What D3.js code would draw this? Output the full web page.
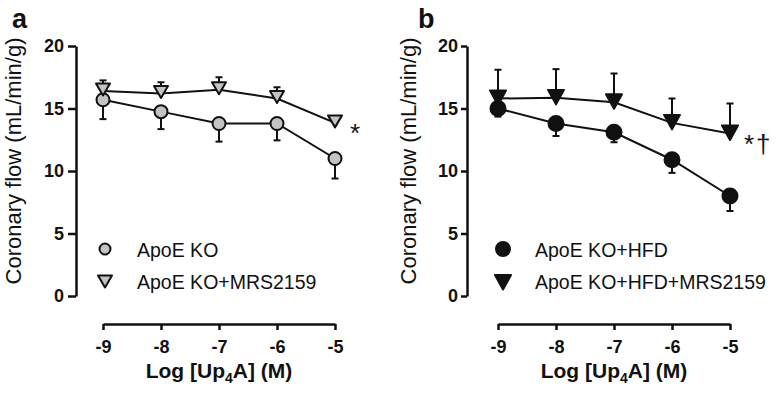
<!DOCTYPE html>
<html>
<head>
<meta charset="utf-8">
<script src="https://cdn.jsdelivr.net/npm/d3@7"></script>
<style>
  body { margin: 0; background: #fff; }
  svg text { font-family: "Liberation Sans", Arial, sans-serif; }
</style>
</head>
<body>
<div id="chart"></div>
<script>
// data (mean, SEM)
const logDose = [-9, -8, -7, -6, -5];
const yTicks = [0, 5, 10, 15, 20];

const koMean = [15.7, 14.75, 13.8, 13.8, 11.0];
const koSem = [1.55, 1.4, 1.45, 1.35, 1.6];
const koMrsMean = [16.4, 16.2, 16.5, 15.8, 13.85];
const koMrsSem = [0.85, 0.9, 1.0, 0.9, 0.55];

const hfdMean = [15.0, 13.8, 13.1, 10.9, 8.0];
const hfdSem = [0.65, 1.0, 0.8, 1.05, 1.2];
const hfdMrsMean = [15.8, 15.85, 15.5, 13.85, 13.0];
const hfdMrsSem = [2.3, 2.3, 2.3, 1.95, 2.4];

const width = 780, height = 398;

const svg = d3.select("#chart")
  .append("svg")
    .attr("width", width)
    .attr("height", height);

const y = d3.scaleLinear().domain([0, 20]).range([296, 46]);

function drawPanel(p) {
  const x = d3.scaleLinear().domain([-9, -5]).range(p.xRange);

  // y axis
  const ya = svg.append("g")
    .attr("transform", `translate(${p.yAxisX},0)`)
    .call(d3.axisLeft(y).tickValues(yTicks).tickSize(p.yTick).tickSizeOuter(0).tickPadding(p.yPad));
  ya.select(".domain").attr("stroke", "#111").attr("stroke-width", 2.5);
  ya.selectAll(".tick line").attr("stroke", "#111").attr("stroke-width", 2.5);
  ya.selectAll(".tick text")
    .style("font-size", "18px").style("font-weight", "bold").attr("fill", "#111");

  // x axis
  const xa = svg.append("g")
    .attr("transform", `translate(0,324)`)
    .call(d3.axisBottom(x).tickValues(logDose).tickSize(6).tickSizeOuter(0).tickPadding(10)
      .tickFormat(d => String(d)));
  xa.select(".domain").attr("stroke", "#111").attr("stroke-width", 2.5);
  xa.selectAll(".tick line").attr("stroke", "#111").attr("stroke-width", 2.5);
  xa.selectAll(".tick text")
    .style("font-size", "18px").style("font-weight", "bold").attr("fill", "#111");

  // x title with subscript
  const xt = svg.append("text")
    .attr("x", (p.xRange[0] + p.xRange[1]) / 2)
    .attr("y", 378)
    .attr("text-anchor", "middle")
    .style("font-size", "21px").style("font-weight", "bold").attr("fill", "#111");
  xt.append("tspan").text("Log [Up");
  xt.append("tspan").attr("dy", 5).style("font-size", "14px").text("4");
  xt.append("tspan").attr("dy", -5).text("A] (M)");

  // y title
  svg.append("text")
    .attr("transform", `translate(${p.yTitleX},161) rotate(-90)`)
    .attr("text-anchor", "middle")
    .style("font-size", "22px").attr("fill", "#111")
    .text("Coronary flow (mL/min/g)");

  // panel letter
  svg.append("text")
    .attr("x", p.letterX).attr("y", 28)
    .style("font-size", "27px").style("font-weight", "bold").attr("fill", "#111")
    .text(p.letter);

  const line = d3.line().x((d, i) => x(logDose[i])).y(d => y(d));
  const series = [
    {mean: p.lowMean, sem: p.lowSem, dir: -1},
    {mean: p.highMean, sem: p.highSem, dir: 1}
  ];

  series.forEach(s => {
    svg.append("path")
      .datum(s.mean)
      .attr("d", line)
      .attr("fill", "none").attr("stroke", "#111").attr("stroke-width", 2);

    // one-sided error bars
    const eb = svg.append("g").attr("stroke", "#111").attr("stroke-width", 2);
    s.mean.forEach((m, i) => {
      const cx = x(logDose[i]);
      const yEnd = y(m + s.dir * s.sem[i]);
      eb.append("line").attr("x1", cx).attr("x2", cx).attr("y1", y(m)).attr("y2", yEnd);
      eb.append("line").attr("x1", cx - 3.5).attr("x2", cx + 3.5).attr("y1", yEnd).attr("y2", yEnd);
    });
  });

  // markers
  const markers = svg.append("g");
  p.lowMean.forEach((m, i) => {
    markers.append("circle")
      .attr("cx", x(logDose[i])).attr("cy", y(m)).attr("r", p.r)
      .attr("fill", p.fill).attr("stroke", "#111").attr("stroke-width", 2);
  });
  p.highMean.forEach((m, i) => {
    markers.append("path")
      .attr("transform", `translate(${x(logDose[i])},${y(m)})`)
      .attr("d", p.tri)
      .attr("fill", p.fill).attr("stroke", "#111").attr("stroke-width", 2).attr("stroke-linejoin", "round");
  });

  // significance mark
  svg.append("text")
    .attr("x", p.sigX).attr("y", y(p.highMean[4]) + 19)
    .style("font-size", "26px").attr("fill", "#111")
    .attr("letter-spacing", 2)
    .text(p.sig);

  // legend
  const lg = svg.append("g");
  lg.append("circle")
    .attr("cx", p.legX).attr("cy", 249).attr("r", p.legR)
    .attr("fill", p.fill).attr("stroke", "#111").attr("stroke-width", 2);
  lg.append("path")
    .attr("transform", `translate(${p.legX},${283})`)
    .attr("d", p.tri)
    .attr("fill", p.fill).attr("stroke", "#111").attr("stroke-width", 2).attr("stroke-linejoin", "round");
  lg.append("text").attr("x", p.legX + 32).attr("y", 257)
    .style("font-size", "19.5px").attr("fill", "#111").text(p.names[0]);
  lg.append("text").attr("x", p.legX + 32).attr("y", 289)
    .style("font-size", "19.5px").attr("fill", "#111").text(p.names[1]);
}

drawPanel({
  letter: "a", letterX: 12,
  xRange: [103, 335], yAxisX: 76, yTick: 8, yPad: 4, yTitleX: 21,
  lowMean: koMean, lowSem: koSem, highMean: koMrsMean, highSem: koMrsSem,
  fill: "#c3c3c3", r: 6.5, legR: 5.5,
  tri: "M-7,-7.5L7,-7.5L0,4.5Z",
  sig: "*", sigX: 350,
  legX: 105, names: ["ApoE KO", "ApoE KO+MRS2159"]
});

drawPanel({
  letter: "b", letterX: 418,
  xRange: [498, 730], yAxisX: 467, yTick: 6, yPad: 3, yTitleX: 416,
  lowMean: hfdMean, lowSem: hfdSem, highMean: hfdMrsMean, highSem: hfdMrsSem,
  fill: "#111", r: 7.5, legR: 7,
  tri: "M-8,-8L8,-8L0,6.5Z",
  sig: "*†", sigX: 744,
  legX: 503, names: ["ApoE KO+HFD", "ApoE KO+HFD+MRS2159"]
});
</script>
</body>
</html>
